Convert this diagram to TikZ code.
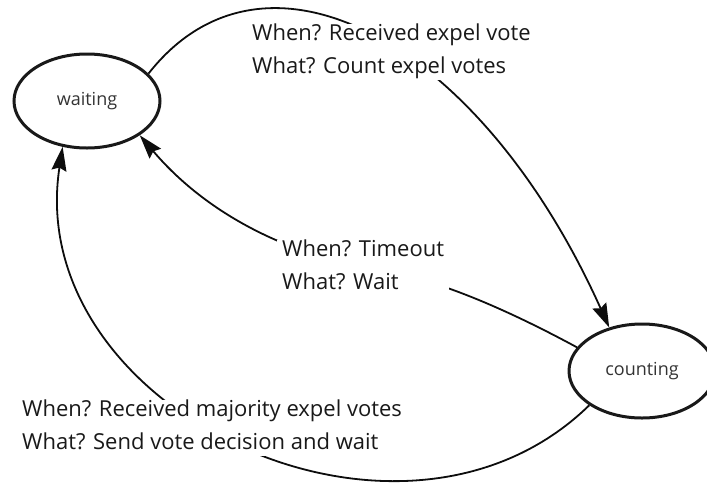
\documentclass[tikz,border=0pt]{standalone}
\usepackage{fontspec}
\setmainfont{Open Sans}
\usetikzlibrary{arrows.meta,shapes.geometric}
\begin{document}
\begin{tikzpicture}[x=1pt,y=-1pt,
  state/.style={ellipse, draw=black!90, line width=3pt, minimum width=146pt,
    minimum height=94pt, inner sep=0pt, text=black!80,
    font=\fontsize{18}{20}\selectfont},
  trans/.style={line width=1.8pt, draw=black!95,
    -{Stealth[length=24pt,width=15pt,inset=3pt]}},
  % two-line labels: the base anchor sits on the second baseline, and the
  % white box runs from 49pt above it to 7pt below it
  lbl/.style={fill=white, align=left, anchor=base west, inner xsep=5pt,
    inner ysep=0pt, text height=49pt, text depth=7pt, text=black!90,
    font=\fontsize{22}{33}\selectfont}]
\useasboundingbox (0,0) rectangle (707,483);

% states
\node[state] (waiting) at (87,101) {waiting};
\node[state] (counting) at (642,371) {counting};

% transitions
\coordinate (tmid) at (380,270);
\draw[trans] (waiting.24) .. controls (265,-75) and (480,40) .. (counting.127);
\draw[trans] (counting.160) .. controls (495,303) and (430,278) .. (tmid)
  .. controls (284,255) and (204,211) .. (waiting.-33);
\draw[trans] (counting.213) .. controls (400,590) and (22,409) .. (waiting.242);

% transition labels, drawn over the curves
\node[lbl] (expel) at (247,73) {When? Received expel vote\\What? Count expel votes};
\node[lbl] (timeout) at (277,289) {When? Timeout\\What? Wait};
\node[lbl] (majority) at (17,449) {When? Received majority expel votes\\What? Send vote decision and wait};
\end{tikzpicture}
\end{document}
